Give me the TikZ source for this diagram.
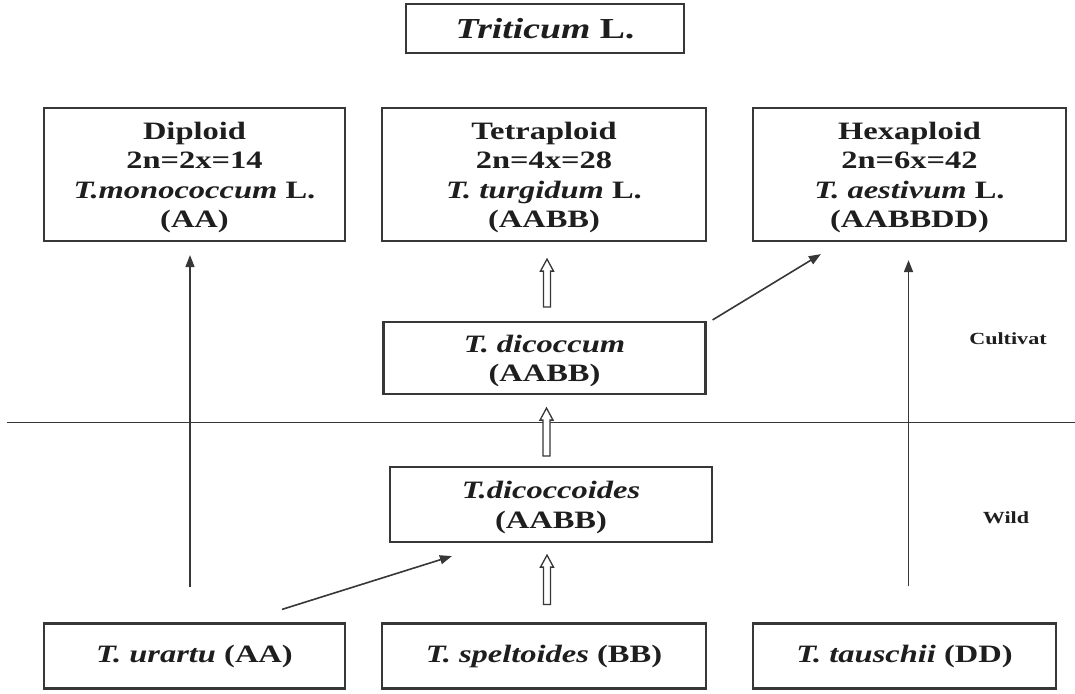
\documentclass[tikz,border=0pt]{standalone}
\usepackage{fontspec}
\setmainfont[FakeStretch=1.3]{Liberation Serif}
\usetikzlibrary{calc,arrows.meta}
\definecolor{ink}{RGB}{30,30,30}
\definecolor{edge}{RGB}{55,55,55}
\newcommand\lowerstrut{\rule{0pt}{23.5pt}}
\tikzset{
  box/.style={draw=edge, line width=2.2pt, inner sep=0pt, align=center, text=ink,
    font=\bfseries\fontsize{25}{29.5}\selectfont},
  thin/.style={draw=edge, line width=1.6pt, -{Triangle[length=12pt,width=9pt]}},
  hollow/.style={draw=edge, line width=1.3pt, fill=white, line join=miter,
    to path={($(\tikztostart)+(-3.5pt,0pt)$) -- ($(\tikztotarget)+(-3.5pt,-12pt)$)
      -- ($(\tikztotarget)+(-6.5pt,-12pt)$) -- (\tikztotarget)
      -- ($(\tikztotarget)+(6.5pt,-12pt)$) -- ($(\tikztotarget)+(3.5pt,-12pt)$)
      -- ($(\tikztostart)+(3.5pt,0pt)$) -- cycle}},
  tag/.style={text=ink, font=\bfseries\fontsize{17}{20}\selectfont, inner sep=0pt}
}
\begin{document}
\begin{tikzpicture}[x=1pt,y=-1pt]
\useasboundingbox[fill=white] (0,0) rectangle (1075,693);

\node[box, font=\bfseries\fontsize{29}{34}\selectfont, minimum width=278, minimum height=49] (tri) at (545,28.5) {\textit{Triticum} L.};

\node[box, minimum width=301, minimum height=133] (dip) at (194.5,174.5) {\lowerstrut Diploid\\2n=2x=14\\\textit{T.monococcum} L.\\(AA)};
\node[box, minimum width=324, minimum height=133] (tet) at (544,174.5) {\lowerstrut Tetraploid\\2n=4x=28\\\textit{T. turgidum} L.\\(AABB)};
\node[box, minimum width=313, minimum height=133] (hex) at (909.5,174.5) {\lowerstrut Hexaploid\\2n=6x=42\\\textit{T. aestivum} L.\\(AABBDD)};

\node[box, minimum width=322, minimum height=72] (dcm) at (544.5,358) {\lowerstrut\textit{T. dicoccum}\\(AABB)};
\node[box, minimum width=322, minimum height=75] (dcs) at (551,504.5) {\lowerstrut\textit{T.dicoccoides}\\(AABB)};

\node[box, minimum width=301, minimum height=65] (ura) at (194.5,656) {\textit{T. urartu} (AA)};
\node[box, minimum width=324, minimum height=65] (spe) at (544,656) {\textit{T. speltoides} (BB)};
\node[box, minimum width=303, minimum height=65] (tau) at (904.5,656) {\textit{T. tauschii} (DD)};

\coordinate (lineL) at (7,422.5);
\coordinate (lineR) at (1075,422.5);
\draw[edge, line width=1.8pt] (lineL) -- (lineR);

\node[tag] (cult) at (1008,339) {Cultivat};
\node[tag] (wild) at (1006,518) {Wild};

% solid arrows
\draw[thin] ([xshift=-4.5pt,yshift=35pt]ura.north) -- ([xshift=-4.5pt,yshift=-13pt]dip.south);
\draw[thin] ([xshift=4pt,yshift=36pt]tau.north) -- ([xshift=-1pt,yshift=-18pt]hex.south);
\draw[thin] ([xshift=6pt,yshift=1pt]dcm.north east) -- ([xshift=69pt,yshift=-12pt]hex.south west);
\draw[thin] ([xshift=87.5pt,yshift=13pt]ura.north) -- ([xshift=63pt,yshift=-13pt]dcs.south west);

% hollow arrows
\draw[hollow] ([xshift=2.5pt,yshift=14pt]dcm.north) to ([xshift=3pt,yshift=-17pt]tet.south);
\draw[hollow] ([xshift=-4.5pt,yshift=10pt]dcs.north) to ([xshift=2pt,yshift=-13pt]dcm.south);
\draw[hollow] ([xshift=3pt,yshift=18pt]spe.north) to ([xshift=-4pt,yshift=-12pt]dcs.south);
\end{tikzpicture}
\end{document}
